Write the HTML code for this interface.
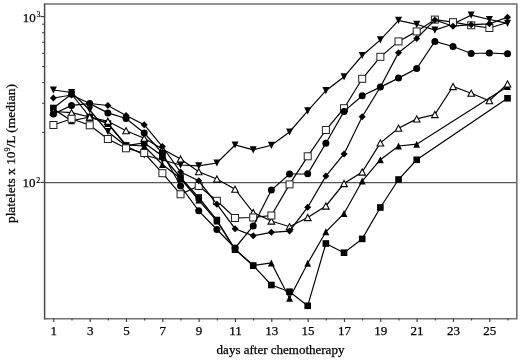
<!DOCTYPE html>
<html><head><meta charset="utf-8"><style>
html,body{margin:0;padding:0;background:#fff;}
svg{display:block;will-change:transform;}

.t{font-family:"Liberation Serif",serif;font-size:13px;fill:#000;stroke:#000;stroke-width:0.25px;}
.s{font-family:"Liberation Serif",serif;font-size:8px;fill:#000;stroke:#000;stroke-width:0.15px;}
</style></head><body>
<svg width="520" height="360" viewBox="0 0 520 360">
<rect width="520" height="360" fill="#fff"/>
<path d="M44.6 4.0H516.8V318.7H44.6" fill="none" stroke="#707070" stroke-width="1.6"/>
<line x1="44.6" y1="3.2" x2="44.6" y2="319.5" stroke="#4a4a4a" stroke-width="1.5"/>
<line x1="44.6" y1="182.6" x2="516.8" y2="182.6" stroke="#555" stroke-width="1.4"/>
<line x1="40.5" y1="182.40" x2="44.6" y2="182.40" stroke="#333" stroke-width="1.1"/>
<line x1="40.5" y1="16.60" x2="44.6" y2="16.60" stroke="#333" stroke-width="1.1"/>
<line x1="42.2" y1="132.49" x2="44.6" y2="132.49" stroke="#333" stroke-width="1"/>
<line x1="42.2" y1="103.29" x2="44.6" y2="103.29" stroke="#333" stroke-width="1"/>
<line x1="42.2" y1="82.58" x2="44.6" y2="82.58" stroke="#333" stroke-width="1"/>
<line x1="42.2" y1="66.51" x2="44.6" y2="66.51" stroke="#333" stroke-width="1"/>
<line x1="42.2" y1="53.38" x2="44.6" y2="53.38" stroke="#333" stroke-width="1"/>
<line x1="42.2" y1="42.28" x2="44.6" y2="42.28" stroke="#333" stroke-width="1"/>
<line x1="42.2" y1="32.67" x2="44.6" y2="32.67" stroke="#333" stroke-width="1"/>
<line x1="42.2" y1="24.19" x2="44.6" y2="24.19" stroke="#333" stroke-width="1"/>
<line x1="53.80" y1="318.7" x2="53.80" y2="322.0" stroke="#333" stroke-width="1.1"/>
<line x1="71.97" y1="318.7" x2="71.97" y2="320.6" stroke="#333" stroke-width="1.1"/>
<line x1="90.13" y1="318.7" x2="90.13" y2="322.0" stroke="#333" stroke-width="1.1"/>
<line x1="108.29" y1="318.7" x2="108.29" y2="320.6" stroke="#333" stroke-width="1.1"/>
<line x1="126.46" y1="318.7" x2="126.46" y2="322.0" stroke="#333" stroke-width="1.1"/>
<line x1="144.62" y1="318.7" x2="144.62" y2="320.6" stroke="#333" stroke-width="1.1"/>
<line x1="162.79" y1="318.7" x2="162.79" y2="322.0" stroke="#333" stroke-width="1.1"/>
<line x1="180.95" y1="318.7" x2="180.95" y2="320.6" stroke="#333" stroke-width="1.1"/>
<line x1="199.12" y1="318.7" x2="199.12" y2="322.0" stroke="#333" stroke-width="1.1"/>
<line x1="217.28" y1="318.7" x2="217.28" y2="320.6" stroke="#333" stroke-width="1.1"/>
<line x1="235.45" y1="318.7" x2="235.45" y2="322.0" stroke="#333" stroke-width="1.1"/>
<line x1="253.62" y1="318.7" x2="253.62" y2="320.6" stroke="#333" stroke-width="1.1"/>
<line x1="271.78" y1="318.7" x2="271.78" y2="322.0" stroke="#333" stroke-width="1.1"/>
<line x1="289.94" y1="318.7" x2="289.94" y2="320.6" stroke="#333" stroke-width="1.1"/>
<line x1="308.11" y1="318.7" x2="308.11" y2="322.0" stroke="#333" stroke-width="1.1"/>
<line x1="326.27" y1="318.7" x2="326.27" y2="320.6" stroke="#333" stroke-width="1.1"/>
<line x1="344.44" y1="318.7" x2="344.44" y2="322.0" stroke="#333" stroke-width="1.1"/>
<line x1="362.61" y1="318.7" x2="362.61" y2="320.6" stroke="#333" stroke-width="1.1"/>
<line x1="380.77" y1="318.7" x2="380.77" y2="322.0" stroke="#333" stroke-width="1.1"/>
<line x1="398.94" y1="318.7" x2="398.94" y2="320.6" stroke="#333" stroke-width="1.1"/>
<line x1="417.10" y1="318.7" x2="417.10" y2="322.0" stroke="#333" stroke-width="1.1"/>
<line x1="435.26" y1="318.7" x2="435.26" y2="320.6" stroke="#333" stroke-width="1.1"/>
<line x1="453.43" y1="318.7" x2="453.43" y2="322.0" stroke="#333" stroke-width="1.1"/>
<line x1="471.59" y1="318.7" x2="471.59" y2="320.6" stroke="#333" stroke-width="1.1"/>
<line x1="489.76" y1="318.7" x2="489.76" y2="322.0" stroke="#333" stroke-width="1.1"/>
<line x1="507.93" y1="318.7" x2="507.93" y2="320.6" stroke="#333" stroke-width="1.1"/>
<text x="53.80" y="334.6" text-anchor="middle" class="t">1</text>
<text x="90.13" y="334.6" text-anchor="middle" class="t">3</text>
<text x="126.46" y="334.6" text-anchor="middle" class="t">5</text>
<text x="162.79" y="334.6" text-anchor="middle" class="t">7</text>
<text x="199.12" y="334.6" text-anchor="middle" class="t">9</text>
<text x="235.45" y="334.6" text-anchor="middle" class="t">11</text>
<text x="271.78" y="334.6" text-anchor="middle" class="t">13</text>
<text x="308.11" y="334.6" text-anchor="middle" class="t">15</text>
<text x="344.44" y="334.6" text-anchor="middle" class="t">17</text>
<text x="380.77" y="334.6" text-anchor="middle" class="t">19</text>
<text x="417.10" y="334.6" text-anchor="middle" class="t">21</text>
<text x="453.43" y="334.6" text-anchor="middle" class="t">23</text>
<text x="489.76" y="334.6" text-anchor="middle" class="t">25</text>
<text x="22.7" y="21.7" class="t">10</text><text x="36.4" y="17.2" class="s">3</text>
<text x="22.6" y="187.4" class="t">10</text><text x="36.3" y="182.9" class="s">2</text>
<text x="280.5" y="353.8" text-anchor="middle" class="t">days after chemotherapy</text>
<text transform="translate(14.6,153.6) rotate(-90)" text-anchor="middle" class="t" style="font-size:13.45px">platelets x 10<tspan class="s" dy="-4.5">9</tspan><tspan dy="4.5">/L (median)</tspan></text>
<path d="M53.40 108.00 L71.56 94.00 L89.73 117.00 L107.89 123.50 L126.06 145.50 L144.22 143.00 L162.39 156.00 L180.56 177.50 L198.72 197.50 L216.88 220.00 L235.05 249.20 L253.22 265.50 L271.38 285.00 L289.54 291.70 L307.71 305.80 L325.87 243.50 L344.04 252.70 L362.20 238.90 L380.37 207.50 L398.53 179.50 L416.70 159.80 L507.52 98.30" fill="none" stroke="#000" stroke-width="1.2"/>
<rect x="50.10" y="104.70" width="6.60" height="6.60" fill="#000"/>
<rect x="68.27" y="90.70" width="6.60" height="6.60" fill="#000"/>
<rect x="86.43" y="113.70" width="6.60" height="6.60" fill="#000"/>
<rect x="104.59" y="120.20" width="6.60" height="6.60" fill="#000"/>
<rect x="122.76" y="142.20" width="6.60" height="6.60" fill="#000"/>
<rect x="140.92" y="139.70" width="6.60" height="6.60" fill="#000"/>
<rect x="159.09" y="152.70" width="6.60" height="6.60" fill="#000"/>
<rect x="177.25" y="174.20" width="6.60" height="6.60" fill="#000"/>
<rect x="195.42" y="194.20" width="6.60" height="6.60" fill="#000"/>
<rect x="213.58" y="216.70" width="6.60" height="6.60" fill="#000"/>
<rect x="231.75" y="245.90" width="6.60" height="6.60" fill="#000"/>
<rect x="249.91" y="262.20" width="6.60" height="6.60" fill="#000"/>
<rect x="268.08" y="281.70" width="6.60" height="6.60" fill="#000"/>
<rect x="286.24" y="288.40" width="6.60" height="6.60" fill="#000"/>
<rect x="304.41" y="302.50" width="6.60" height="6.60" fill="#000"/>
<rect x="322.57" y="240.20" width="6.60" height="6.60" fill="#000"/>
<rect x="340.74" y="249.40" width="6.60" height="6.60" fill="#000"/>
<rect x="358.90" y="235.60" width="6.60" height="6.60" fill="#000"/>
<rect x="377.07" y="204.20" width="6.60" height="6.60" fill="#000"/>
<rect x="395.23" y="176.20" width="6.60" height="6.60" fill="#000"/>
<rect x="413.40" y="156.50" width="6.60" height="6.60" fill="#000"/>
<rect x="504.22" y="95.00" width="6.60" height="6.60" fill="#000"/>
<path d="M53.40 109.00 L71.56 120.80 L89.73 117.00 L107.89 123.50 L126.06 145.00 L144.22 146.00 L162.39 164.50 L180.56 178.50 L198.72 200.00 L216.88 221.00 L235.05 249.50 L253.22 265.50 L271.38 263.00 L289.54 298.30 L307.71 263.30 L325.87 231.80 L344.04 213.50 L362.20 181.00 L380.37 159.70 L398.53 146.00 L416.70 144.20 L507.52 86.50" fill="none" stroke="#000" stroke-width="1.2"/>
<path d="M50.00 112.50L56.80 112.50L53.40 105.50Z" fill="#000"/>
<path d="M68.16 124.30L74.97 124.30L71.56 117.30Z" fill="#000"/>
<path d="M86.33 120.50L93.13 120.50L89.73 113.50Z" fill="#000"/>
<path d="M104.49 127.00L111.30 127.00L107.89 120.00Z" fill="#000"/>
<path d="M122.66 148.50L129.46 148.50L126.06 141.50Z" fill="#000"/>
<path d="M140.82 149.50L147.62 149.50L144.22 142.50Z" fill="#000"/>
<path d="M158.99 168.00L165.79 168.00L162.39 161.00Z" fill="#000"/>
<path d="M177.16 182.00L183.96 182.00L180.56 175.00Z" fill="#000"/>
<path d="M195.32 203.50L202.12 203.50L198.72 196.50Z" fill="#000"/>
<path d="M213.48 224.50L220.28 224.50L216.88 217.50Z" fill="#000"/>
<path d="M231.65 253.00L238.45 253.00L235.05 246.00Z" fill="#000"/>
<path d="M249.81 269.00L256.62 269.00L253.22 262.00Z" fill="#000"/>
<path d="M267.98 266.50L274.78 266.50L271.38 259.50Z" fill="#000"/>
<path d="M286.14 301.80L292.94 301.80L289.54 294.80Z" fill="#000"/>
<path d="M304.31 266.80L311.11 266.80L307.71 259.80Z" fill="#000"/>
<path d="M322.47 235.30L329.27 235.30L325.87 228.30Z" fill="#000"/>
<path d="M340.64 217.00L347.44 217.00L344.04 210.00Z" fill="#000"/>
<path d="M358.81 184.50L365.60 184.50L362.20 177.50Z" fill="#000"/>
<path d="M376.97 163.20L383.77 163.20L380.37 156.20Z" fill="#000"/>
<path d="M395.13 149.50L401.93 149.50L398.53 142.50Z" fill="#000"/>
<path d="M413.30 147.70L420.10 147.70L416.70 140.70Z" fill="#000"/>
<path d="M504.12 90.00L510.92 90.00L507.52 83.00Z" fill="#000"/>
<path d="M53.40 90.00 L71.56 92.50 L89.73 110.00 L107.89 131.70 L126.06 146.00 L144.22 155.00 L162.39 160.00 L180.56 165.00 L198.72 165.80 L216.88 163.00 L235.05 145.00 L253.22 149.80 L271.38 145.30 L289.54 132.00 L307.71 110.80 L325.87 90.70 L344.04 76.80 L362.20 55.50 L380.37 39.90 L398.53 20.40 L416.70 24.30 L434.86 30.10 L453.03 24.00 L471.19 15.10 L489.36 19.50 L507.52 23.30" fill="none" stroke="#000" stroke-width="1.2"/>
<path d="M49.90 86.40L56.90 86.40L53.40 93.60Z" fill="#000"/>
<path d="M68.06 88.90L75.06 88.90L71.56 96.10Z" fill="#000"/>
<path d="M86.23 106.40L93.23 106.40L89.73 113.60Z" fill="#000"/>
<path d="M104.39 128.10L111.39 128.10L107.89 135.30Z" fill="#000"/>
<path d="M122.56 142.40L129.56 142.40L126.06 149.60Z" fill="#000"/>
<path d="M140.72 151.40L147.72 151.40L144.22 158.60Z" fill="#000"/>
<path d="M158.89 156.40L165.89 156.40L162.39 163.60Z" fill="#000"/>
<path d="M177.06 161.40L184.06 161.40L180.56 168.60Z" fill="#000"/>
<path d="M195.22 162.20L202.22 162.20L198.72 169.40Z" fill="#000"/>
<path d="M213.38 159.40L220.38 159.40L216.88 166.60Z" fill="#000"/>
<path d="M231.55 141.40L238.55 141.40L235.05 148.60Z" fill="#000"/>
<path d="M249.72 146.20L256.72 146.20L253.22 153.40Z" fill="#000"/>
<path d="M267.88 141.70L274.88 141.70L271.38 148.90Z" fill="#000"/>
<path d="M286.04 128.40L293.04 128.40L289.54 135.60Z" fill="#000"/>
<path d="M304.21 107.20L311.21 107.20L307.71 114.40Z" fill="#000"/>
<path d="M322.37 87.10L329.37 87.10L325.87 94.30Z" fill="#000"/>
<path d="M340.54 73.20L347.54 73.20L344.04 80.40Z" fill="#000"/>
<path d="M358.70 51.90L365.70 51.90L362.20 59.10Z" fill="#000"/>
<path d="M376.87 36.30L383.87 36.30L380.37 43.50Z" fill="#000"/>
<path d="M395.03 16.80L402.03 16.80L398.53 24.00Z" fill="#000"/>
<path d="M413.20 20.70L420.20 20.70L416.70 27.90Z" fill="#000"/>
<path d="M431.36 26.50L438.36 26.50L434.86 33.70Z" fill="#000"/>
<path d="M449.53 20.40L456.53 20.40L453.03 27.60Z" fill="#000"/>
<path d="M467.69 11.50L474.69 11.50L471.19 18.70Z" fill="#000"/>
<path d="M485.86 15.90L492.86 15.90L489.36 23.10Z" fill="#000"/>
<path d="M504.02 19.70L511.02 19.70L507.52 26.90Z" fill="#000"/>
<path d="M53.40 111.50 L71.56 112.70 L89.73 117.00 L107.89 121.30 L126.06 130.70 L144.22 138.30 L162.39 149.00 L180.56 159.00 L198.72 171.70 L216.88 179.00 L235.05 189.20 L253.22 212.50 L271.38 221.00 L289.54 226.70 L307.71 217.50 L325.87 206.00 L344.04 183.50 L362.20 172.00 L380.37 142.90 L398.53 128.20 L416.70 118.90 L434.86 114.50 L453.03 86.50 L471.19 93.20 L489.36 100.70 L507.52 83.90" fill="none" stroke="#000" stroke-width="1.2"/>
<path d="M50.10 114.60L56.70 114.60L53.40 108.40Z" fill="#fff" stroke="#000" stroke-width="1.1" stroke-linejoin="miter"/>
<path d="M68.27 115.80L74.86 115.80L71.56 109.60Z" fill="#fff" stroke="#000" stroke-width="1.1" stroke-linejoin="miter"/>
<path d="M86.43 120.10L93.03 120.10L89.73 113.90Z" fill="#fff" stroke="#000" stroke-width="1.1" stroke-linejoin="miter"/>
<path d="M104.59 124.40L111.19 124.40L107.89 118.20Z" fill="#fff" stroke="#000" stroke-width="1.1" stroke-linejoin="miter"/>
<path d="M122.76 133.80L129.36 133.80L126.06 127.60Z" fill="#fff" stroke="#000" stroke-width="1.1" stroke-linejoin="miter"/>
<path d="M140.92 141.40L147.53 141.40L144.22 135.20Z" fill="#fff" stroke="#000" stroke-width="1.1" stroke-linejoin="miter"/>
<path d="M159.09 152.10L165.69 152.10L162.39 145.90Z" fill="#fff" stroke="#000" stroke-width="1.1" stroke-linejoin="miter"/>
<path d="M177.25 162.10L183.86 162.10L180.56 155.90Z" fill="#fff" stroke="#000" stroke-width="1.1" stroke-linejoin="miter"/>
<path d="M195.42 174.80L202.02 174.80L198.72 168.60Z" fill="#fff" stroke="#000" stroke-width="1.1" stroke-linejoin="miter"/>
<path d="M213.58 182.10L220.19 182.10L216.88 175.90Z" fill="#fff" stroke="#000" stroke-width="1.1" stroke-linejoin="miter"/>
<path d="M231.75 192.30L238.35 192.30L235.05 186.10Z" fill="#fff" stroke="#000" stroke-width="1.1" stroke-linejoin="miter"/>
<path d="M249.91 215.60L256.51 215.60L253.22 209.40Z" fill="#fff" stroke="#000" stroke-width="1.1" stroke-linejoin="miter"/>
<path d="M268.08 224.10L274.68 224.10L271.38 217.90Z" fill="#fff" stroke="#000" stroke-width="1.1" stroke-linejoin="miter"/>
<path d="M286.24 229.80L292.84 229.80L289.54 223.60Z" fill="#fff" stroke="#000" stroke-width="1.1" stroke-linejoin="miter"/>
<path d="M304.41 220.60L311.01 220.60L307.71 214.40Z" fill="#fff" stroke="#000" stroke-width="1.1" stroke-linejoin="miter"/>
<path d="M322.57 209.10L329.17 209.10L325.87 202.90Z" fill="#fff" stroke="#000" stroke-width="1.1" stroke-linejoin="miter"/>
<path d="M340.74 186.60L347.34 186.60L344.04 180.40Z" fill="#fff" stroke="#000" stroke-width="1.1" stroke-linejoin="miter"/>
<path d="M358.90 175.10L365.50 175.10L362.20 168.90Z" fill="#fff" stroke="#000" stroke-width="1.1" stroke-linejoin="miter"/>
<path d="M377.07 146.00L383.67 146.00L380.37 139.80Z" fill="#fff" stroke="#000" stroke-width="1.1" stroke-linejoin="miter"/>
<path d="M395.23 131.30L401.83 131.30L398.53 125.10Z" fill="#fff" stroke="#000" stroke-width="1.1" stroke-linejoin="miter"/>
<path d="M413.40 122.00L420.00 122.00L416.70 115.80Z" fill="#fff" stroke="#000" stroke-width="1.1" stroke-linejoin="miter"/>
<path d="M431.56 117.60L438.16 117.60L434.86 111.40Z" fill="#fff" stroke="#000" stroke-width="1.1" stroke-linejoin="miter"/>
<path d="M449.73 89.60L456.33 89.60L453.03 83.40Z" fill="#fff" stroke="#000" stroke-width="1.1" stroke-linejoin="miter"/>
<path d="M467.89 96.30L474.49 96.30L471.19 90.10Z" fill="#fff" stroke="#000" stroke-width="1.1" stroke-linejoin="miter"/>
<path d="M486.06 103.80L492.66 103.80L489.36 97.60Z" fill="#fff" stroke="#000" stroke-width="1.1" stroke-linejoin="miter"/>
<path d="M504.22 87.00L510.82 87.00L507.52 80.80Z" fill="#fff" stroke="#000" stroke-width="1.1" stroke-linejoin="miter"/>
<path d="M53.40 125.00 L71.56 118.80 L89.73 125.30 L107.89 139.00 L126.06 148.30 L144.22 153.00 L162.39 173.20 L180.56 194.30 L198.72 186.00 L216.88 200.80 L235.05 218.00 L253.22 217.50 L271.38 215.50 L289.54 184.40 L307.71 156.30 L325.87 130.00 L344.04 108.20 L362.20 78.80 L380.37 56.80 L398.53 41.40 L416.70 31.40 L434.86 19.60 L453.03 22.20 L471.19 25.30 L489.36 28.00 L507.52 22.50" fill="none" stroke="#000" stroke-width="1.2"/>
<rect x="49.90" y="121.50" width="7.00" height="7.00" fill="#fff" stroke="#222" stroke-width="1"/>
<rect x="68.06" y="115.30" width="7.00" height="7.00" fill="#fff" stroke="#222" stroke-width="1"/>
<rect x="86.23" y="121.80" width="7.00" height="7.00" fill="#fff" stroke="#222" stroke-width="1"/>
<rect x="104.39" y="135.50" width="7.00" height="7.00" fill="#fff" stroke="#222" stroke-width="1"/>
<rect x="122.56" y="144.80" width="7.00" height="7.00" fill="#fff" stroke="#222" stroke-width="1"/>
<rect x="140.72" y="149.50" width="7.00" height="7.00" fill="#fff" stroke="#222" stroke-width="1"/>
<rect x="158.89" y="169.70" width="7.00" height="7.00" fill="#fff" stroke="#222" stroke-width="1"/>
<rect x="177.06" y="190.80" width="7.00" height="7.00" fill="#fff" stroke="#222" stroke-width="1"/>
<rect x="195.22" y="182.50" width="7.00" height="7.00" fill="#fff" stroke="#222" stroke-width="1"/>
<rect x="213.38" y="197.30" width="7.00" height="7.00" fill="#fff" stroke="#222" stroke-width="1"/>
<rect x="231.55" y="214.50" width="7.00" height="7.00" fill="#fff" stroke="#222" stroke-width="1"/>
<rect x="249.72" y="214.00" width="7.00" height="7.00" fill="#fff" stroke="#222" stroke-width="1"/>
<rect x="267.88" y="212.00" width="7.00" height="7.00" fill="#fff" stroke="#222" stroke-width="1"/>
<rect x="286.04" y="180.90" width="7.00" height="7.00" fill="#fff" stroke="#222" stroke-width="1"/>
<rect x="304.21" y="152.80" width="7.00" height="7.00" fill="#fff" stroke="#222" stroke-width="1"/>
<rect x="322.37" y="126.50" width="7.00" height="7.00" fill="#fff" stroke="#222" stroke-width="1"/>
<rect x="340.54" y="104.70" width="7.00" height="7.00" fill="#fff" stroke="#222" stroke-width="1"/>
<rect x="358.70" y="75.30" width="7.00" height="7.00" fill="#fff" stroke="#222" stroke-width="1"/>
<rect x="376.87" y="53.30" width="7.00" height="7.00" fill="#fff" stroke="#222" stroke-width="1"/>
<rect x="395.03" y="37.90" width="7.00" height="7.00" fill="#fff" stroke="#222" stroke-width="1"/>
<rect x="413.20" y="27.90" width="7.00" height="7.00" fill="#fff" stroke="#222" stroke-width="1"/>
<rect x="431.36" y="16.10" width="7.00" height="7.00" fill="#fff" stroke="#222" stroke-width="1"/>
<rect x="449.53" y="18.70" width="7.00" height="7.00" fill="#fff" stroke="#222" stroke-width="1"/>
<rect x="467.69" y="21.80" width="7.00" height="7.00" fill="#fff" stroke="#222" stroke-width="1"/>
<rect x="485.86" y="24.50" width="7.00" height="7.00" fill="#fff" stroke="#222" stroke-width="1"/>
<path d="M53.40 98.00 L71.56 95.00 L89.73 103.50 L107.89 105.50 L126.06 115.50 L144.22 124.70 L162.39 146.50 L180.56 172.00 L198.72 180.80 L216.88 204.20 L235.05 228.70 L253.22 235.80 L271.38 232.30 L289.54 231.10 L307.71 207.20 L325.87 176.10 L344.04 153.90 L362.20 116.70 L380.37 87.00 L398.53 52.70 L416.70 38.40 L434.86 20.00 L453.03 26.20 L471.19 24.70 L489.36 23.80 L507.52 17.20" fill="none" stroke="#000" stroke-width="1.2"/>
<path d="M53.40 94.50L56.90 98.00L53.40 101.50L49.90 98.00Z" fill="#000"/>
<path d="M71.56 91.50L75.06 95.00L71.56 98.50L68.06 95.00Z" fill="#000"/>
<path d="M89.73 100.00L93.23 103.50L89.73 107.00L86.23 103.50Z" fill="#000"/>
<path d="M107.89 102.00L111.39 105.50L107.89 109.00L104.39 105.50Z" fill="#000"/>
<path d="M126.06 112.00L129.56 115.50L126.06 119.00L122.56 115.50Z" fill="#000"/>
<path d="M144.22 121.20L147.72 124.70L144.22 128.20L140.72 124.70Z" fill="#000"/>
<path d="M162.39 143.00L165.89 146.50L162.39 150.00L158.89 146.50Z" fill="#000"/>
<path d="M180.56 168.50L184.06 172.00L180.56 175.50L177.06 172.00Z" fill="#000"/>
<path d="M198.72 177.30L202.22 180.80L198.72 184.30L195.22 180.80Z" fill="#000"/>
<path d="M216.88 200.70L220.38 204.20L216.88 207.70L213.38 204.20Z" fill="#000"/>
<path d="M235.05 225.20L238.55 228.70L235.05 232.20L231.55 228.70Z" fill="#000"/>
<path d="M253.22 232.30L256.72 235.80L253.22 239.30L249.72 235.80Z" fill="#000"/>
<path d="M271.38 228.80L274.88 232.30L271.38 235.80L267.88 232.30Z" fill="#000"/>
<path d="M289.54 227.60L293.04 231.10L289.54 234.60L286.04 231.10Z" fill="#000"/>
<path d="M307.71 203.70L311.21 207.20L307.71 210.70L304.21 207.20Z" fill="#000"/>
<path d="M325.87 172.60L329.37 176.10L325.87 179.60L322.37 176.10Z" fill="#000"/>
<path d="M344.04 150.40L347.54 153.90L344.04 157.40L340.54 153.90Z" fill="#000"/>
<path d="M362.20 113.20L365.70 116.70L362.20 120.20L358.70 116.70Z" fill="#000"/>
<path d="M380.37 83.50L383.87 87.00L380.37 90.50L376.87 87.00Z" fill="#000"/>
<path d="M398.53 49.20L402.03 52.70L398.53 56.20L395.03 52.70Z" fill="#000"/>
<path d="M416.70 34.90L420.20 38.40L416.70 41.90L413.20 38.40Z" fill="#000"/>
<path d="M434.86 16.50L438.36 20.00L434.86 23.50L431.36 20.00Z" fill="#000"/>
<path d="M453.03 22.70L456.53 26.20L453.03 29.70L449.53 26.20Z" fill="#000"/>
<path d="M471.19 21.20L474.69 24.70L471.19 28.20L467.69 24.70Z" fill="#000"/>
<path d="M489.36 20.30L492.86 23.80L489.36 27.30L485.86 23.80Z" fill="#000"/>
<path d="M507.52 13.70L511.02 17.20L507.52 20.70L504.02 17.20Z" fill="#000"/>
<path d="M53.40 114.00 L71.56 105.40 L89.73 103.60 L107.89 112.90 L126.06 118.50 L144.22 133.00 L162.39 153.00 L180.56 186.00 L198.72 210.80 L216.88 229.50 L235.05 248.00 L253.22 226.00 L271.38 190.00 L289.54 174.00 L307.71 173.80 L325.87 143.20 L344.04 111.40 L362.20 95.80 L380.37 87.10 L398.53 78.10 L416.70 68.50 L434.86 41.50 L453.03 46.50 L471.19 53.50 L489.36 53.00 L507.52 53.80" fill="none" stroke="#000" stroke-width="1.2"/>
<circle cx="53.40" cy="114.00" r="3.5" fill="#000"/>
<circle cx="71.56" cy="105.40" r="3.5" fill="#000"/>
<circle cx="89.73" cy="103.60" r="3.5" fill="#000"/>
<circle cx="107.89" cy="112.90" r="3.5" fill="#000"/>
<circle cx="126.06" cy="118.50" r="3.5" fill="#000"/>
<circle cx="144.22" cy="133.00" r="3.5" fill="#000"/>
<circle cx="162.39" cy="153.00" r="3.5" fill="#000"/>
<circle cx="180.56" cy="186.00" r="3.5" fill="#000"/>
<circle cx="198.72" cy="210.80" r="3.5" fill="#000"/>
<circle cx="216.88" cy="229.50" r="3.5" fill="#000"/>
<circle cx="235.05" cy="248.00" r="3.5" fill="#000"/>
<circle cx="253.22" cy="226.00" r="3.5" fill="#000"/>
<circle cx="271.38" cy="190.00" r="3.5" fill="#000"/>
<circle cx="289.54" cy="174.00" r="3.5" fill="#000"/>
<circle cx="307.71" cy="173.80" r="3.5" fill="#000"/>
<circle cx="325.87" cy="143.20" r="3.5" fill="#000"/>
<circle cx="344.04" cy="111.40" r="3.5" fill="#000"/>
<circle cx="362.20" cy="95.80" r="3.5" fill="#000"/>
<circle cx="380.37" cy="87.10" r="3.5" fill="#000"/>
<circle cx="398.53" cy="78.10" r="3.5" fill="#000"/>
<circle cx="416.70" cy="68.50" r="3.5" fill="#000"/>
<circle cx="434.86" cy="41.50" r="3.5" fill="#000"/>
<circle cx="453.03" cy="46.50" r="3.5" fill="#000"/>
<circle cx="471.19" cy="53.50" r="3.5" fill="#000"/>
<circle cx="489.36" cy="53.00" r="3.5" fill="#000"/>
<circle cx="507.52" cy="53.80" r="3.5" fill="#000"/>
</svg>
</body></html>
